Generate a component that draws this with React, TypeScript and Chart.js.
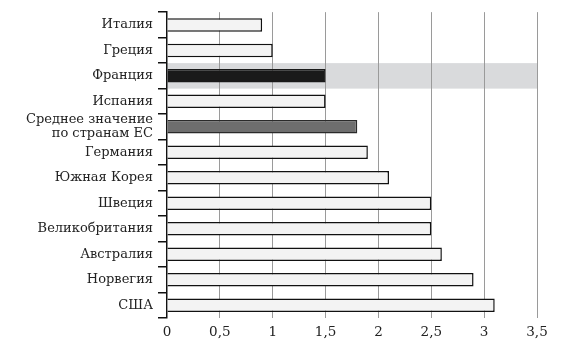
import React, { useEffect, useRef } from "react";
import { Chart, registerables } from "chart.js";

Chart.register(...registerables);

const categories: (string | string[])[] = [
  "Италия",
  "Греция",
  "Франция",
  "Испания",
  ["Среднее значение", "по странам ЕС"],
  "Германия",
  "Южная Корея",
  "Швеция",
  "Великобритания",
  "Австралия",
  "Норвегия",
  "США",
];
const values = [0.9, 1.0, 1.5, 1.5, 1.8, 1.9, 2.1, 2.5, 2.5, 2.6, 2.9, 3.1];
const highlightIndex = 2; // Франция
const averageIndex = 4; // Среднее значение по странам ЕС
const xMin = 0;
const xMax = 3.5;
const xStep = 0.5;

const FONT = "'DejaVu Serif', serif";

const highlightPlugin = {
  id: "highlightBand",
  beforeDraw(chart: any) {
    const y = chart.scales.y;
    const area = chart.chartArea;
    if (!y || !area) return;
    const band = (area.bottom - area.top) / categories.length;
    const c = y.getPixelForValue(highlightIndex);
    const ctx = chart.ctx;
    ctx.save();
    ctx.fillStyle = "#d9dadc";
    ctx.fillRect(area.left, c - band / 2, area.right - area.left, band);
    ctx.restore();
  },
};

export default function App() {
  const ref = useRef<HTMLCanvasElement | null>(null);

  useEffect(() => {
    if (!ref.current) return;
    const bg = values.map((_, i) =>
      i === highlightIndex ? "#1a1a1a" : i === averageIndex ? "#6e6e6e" : "#f3f3f3"
    );
    const border = values.map((_, i) =>
      i === highlightIndex ? "#1a1a1a" : i === averageIndex ? "#2a2a2a" : "#111111"
    );
    const chart = new Chart(ref.current, {
      type: "bar",
      data: {
        labels: categories as any,
        datasets: [
          {
            data: values,
            backgroundColor: bg,
            borderColor: border,
            borderWidth: 1.5,
            borderSkipped: "start",
            barPercentage: 0.53,
            categoryPercentage: 1,
          },
        ],
      },
      options: {
        indexAxis: "y",
        animation: false,
        responsive: true,
        maintainAspectRatio: false,
        layout: { padding: { top: 12, right: 45, left: 0, bottom: 0 } },
        plugins: {
          legend: { display: false },
          tooltip: { enabled: false },
        },
        scales: {
          x: {
            type: "linear",
            min: xMin,
            max: xMax,
            ticks: {
              stepSize: xStep,
              padding: 6,
              color: "#222",
              font: { family: FONT, size: 13.5 },
              callback: (v: any) => String(v).replace(".", ","),
            },
            grid: {
              drawTicks: false,
              lineWidth: 1,
              color: (ctx: any) =>
                ctx.tick && ctx.tick.value === 0 ? "rgba(0,0,0,0)" : "#9a9a9a",
            },
            border: { display: false },
            afterFit: (scale: any) => {
              scale.height = 41;
            },
          },
          y: {
            type: "category",
            ticks: {
              autoSkip: false,
              padding: 5,
              color: "#222",
              font: { family: FONT, size: 13, lineHeight: 1.1 },
            },
            grid: {
              offset: true,
              drawOnChartArea: false,
              drawTicks: true,
              tickLength: 9,
              color: "#111",
              lineWidth: 1.5,
            },
            border: { display: true, color: "#111", width: 1.5 },
            afterFit: (scale: any) => {
              scale.width = 167;
            },
          },
        },
      },
      plugins: [highlightPlugin],
    } as any);
    return () => chart.destroy();
  }, []);

  return (
    <div
      style={{
        position: "fixed",
        left: 0,
        top: 0,
        width: 582,
        height: 359,
        background: "#fff",
      }}
    >
      <canvas ref={ref} />
    </div>
  );
}
